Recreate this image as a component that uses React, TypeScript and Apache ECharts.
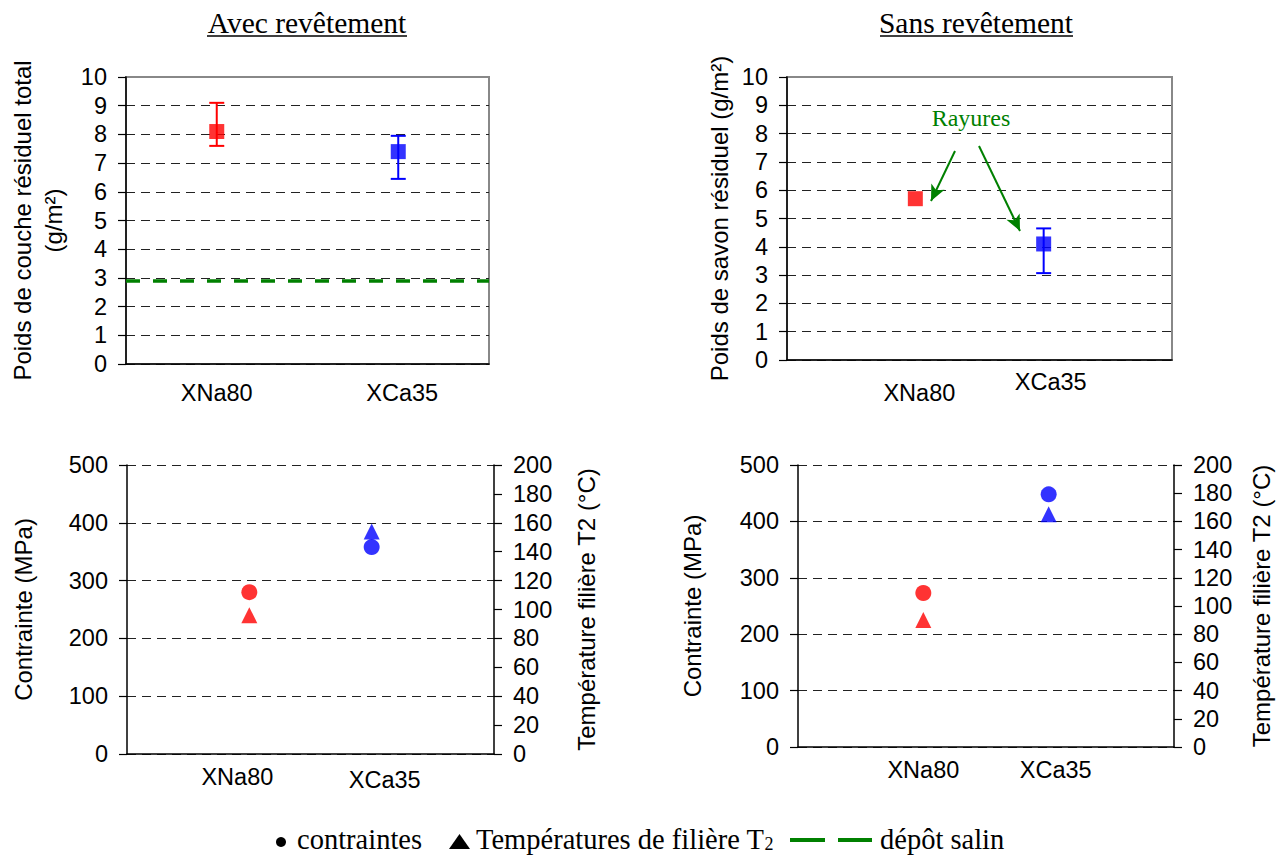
import React, { useEffect, useRef } from 'react';
import * as echarts from 'echarts';

// ---------- DATA ----------
const categories = ['XNa80', 'XCa35'];
const pointColors = ['#FF0000', '#0000FF'];

// Top-left : Avec revêtement — poids de couche résiduel total (g/m²)
const coatedResidual = [8.1, 7.4];
const coatedResidualLow = [7.6, 6.45];
const coatedResidualHigh = [9.1, 7.95];
const saltDeposit = 2.9; // dépôt salin

// Top-right : Sans revêtement — poids de savon résiduel (g/m²)
const uncoatedSoap = [5.7, 4.1];
const uncoatedSoapLow = [null, 3.07];
const uncoatedSoapHigh = [null, 4.65];

// Bottom : contraintes (MPa) et températures de filière T2 (°C)
const coatedStress = [280, 358];
const coatedTemp = [96, 154];
const uncoatedStress = [273, 448];
const uncoatedTemp = [90, 165];

// Axis ranges (tick labels)
const weightAxis = { min: 0, max: 10, interval: 1 };
const stressAxis = { min: 0, max: 500, interval: 100 };
const tempAxis = { min: 0, max: 200, interval: 20 };

// ---------- STYLE ----------
const SANS = 'Arial, "Liberation Sans", Helvetica, sans-serif';
const SERIF = '"Times New Roman", "Liberation Serif", Times, serif';
const GREEN = '#008000';
const LABEL_SIZE = 23.5;
const NAME_SIZE = 24;
const TITLE_SIZE = 29.5;
const LEGEND_SIZE = 28.5;
const LEGEND_Y = 839;

const paddedCats = ['', ...categories, ' '];

function xAxisDef(gridIndex: number, data: string[], boundaryGap: boolean, margin: number, pads: Record<string, number[]>) {
  const rich: Record<string, any> = {};
  categories.forEach((c, i) => {
    rich['c' + i] = { fontFamily: SANS, fontSize: LABEL_SIZE, color: '#000', padding: pads[c] || [0, 0, 0, 0] };
  });
  return {
    type: 'category',
    gridIndex,
    data,
    boundaryGap,
    axisLine: { show: true, lineStyle: { color: '#000', width: 1.5 } },
    axisTick: { show: false },
    splitLine: { show: false },
    axisLabel: {
      interval: 0,
      margin,
      fontFamily: SANS,
      fontSize: LABEL_SIZE,
      color: '#000',
      formatter: (v: string) => {
        const i = categories.indexOf(v);
        return i >= 0 ? `{c${i}|${v}}` : '';
      },
      rich,
    },
  };
}

function yAxisDef(gridIndex: number, range: any, position: 'left' | 'right', name: string, nameGap: number, split: boolean, showMax: boolean, lineHeight?: number) {
  return {
    type: 'value',
    gridIndex,
    position,
    min: range.min,
    max: range.max,
    interval: range.interval,
    name,
    nameLocation: 'middle',
    nameGap,
    nameTextStyle: { fontFamily: SANS, fontSize: NAME_SIZE, color: '#000', lineHeight: lineHeight || NAME_SIZE },
    axisLine: { show: true, onZero: false, lineStyle: { color: '#000', width: 1.5 } },
    axisTick: { show: true, inside: false, length: 8, lineStyle: { color: '#000', width: 1.2 } },
    axisLabel: { margin: 19, fontFamily: SANS, fontSize: LABEL_SIZE, color: '#000' },
    splitLine: split
      ? { show: true, showMaxLine: showMax, lineStyle: { color: '#222', width: 1, type: [9, 6] } }
      : { show: false },
  };
}

function errorBarSeries(xIdx: number, yIdx: number, lows: (number | null)[], highs: (number | null)[]) {
  const data: any[] = [];
  categories.forEach((c, i) => {
    if (lows[i] != null && highs[i] != null) data.push([c, lows[i], highs[i], i]);
  });
  return {
    type: 'custom',
    xAxisIndex: xIdx,
    yAxisIndex: yIdx,
    z: 1,
    silent: true,
    encode: { x: 0, y: [1, 2] },
    data,
    renderItem: (_params: any, api: any) => {
      const xi = api.value(0);
      const lo = api.coord([xi, api.value(1)]);
      const hi = api.coord([xi, api.value(2)]);
      const color = pointColors[api.value(3)];
      const cap = 7.5;
      const style = { stroke: color, lineWidth: 2, fill: 'none' };
      return {
        type: 'group',
        children: [
          { type: 'line', shape: { x1: lo[0], y1: lo[1], x2: hi[0], y2: hi[1] }, style },
          { type: 'line', shape: { x1: lo[0] - cap, y1: lo[1], x2: lo[0] + cap, y2: lo[1] }, style },
          { type: 'line', shape: { x1: hi[0] - cap, y1: hi[1], x2: hi[0] + cap, y2: hi[1] }, style },
        ],
      };
    },
  };
}

function pointSeries(name: string, xIdx: number, yIdx: number, values: number[], symbol: string, size: number, extra: any = {}) {
  return {
    type: 'scatter',
    name,
    xAxisIndex: xIdx,
    yAxisIndex: yIdx,
    symbol,
    symbolSize: size,
    z: 3,
    data: categories.map((c, i) => ({ value: [c, values[i]], itemStyle: { color: pointColors[i] } })),
    ...extra,
  };
}

export default function App() {
  const ref = useRef<HTMLDivElement>(null);

  useEffect(() => {
    if (!ref.current) return;
    const chart = echarts.init(ref.current, null, { renderer: 'svg' });

    const legendText = (text: string, x: number, extra: any = {}) => ({
      type: 'text',
      x,
      y: LEGEND_Y,
      style: {
        text,
        fontFamily: SERIF,
        fontSize: LEGEND_SIZE,
        lineHeight: 26,
        fill: '#000',
        align: 'left',
        verticalAlign: 'middle',
        ...extra,
      },
    });

    const option: any = {
      animation: false,
      backgroundColor: '#fff',
      grid: [
        { left: 126, top: 77, width: 363, height: 287, show: true, borderColor: '#888', borderWidth: 2, backgroundColor: 'transparent' },
        { left: 787, top: 77, width: 385, height: 283, show: true, borderColor: '#888', borderWidth: 2, backgroundColor: 'transparent' },
        { left: 127, top: 465, width: 367, height: 289 },
        { left: 798, top: 465, width: 376, height: 282 },
      ],
      xAxis: [
        xAxisDef(0, categories, true, 17, { XCa35: [0, 0, 0, 8] }),
        xAxisDef(1, paddedCats, false, 10, { XNa80: [11, 0, 0, 8], XCa35: [0, 0, 0, 14] }),
        xAxisDef(2, paddedCats, false, 11, { XNa80: [0, 24, 0, 0], XCa35: [3, 0, 0, 26] }),
        xAxisDef(3, paddedCats, false, 11, { XCa35: [0, 0, 0, 14] }),
      ],
      yAxis: [
        yAxisDef(0, weightAxis, 'left', 'Poids de couche résiduel total\n(g/m²)', 57, true, false, 31),
        yAxisDef(1, weightAxis, 'left', 'Poids de savon résiduel (g/m²)', 56, true, false),
        yAxisDef(2, stressAxis, 'left', 'Contrainte (MPa)', 92, true, true),
        yAxisDef(2, tempAxis, 'right', 'Température filière T2 (°C)', 80, false, false),
        yAxisDef(3, stressAxis, 'left', 'Contrainte (MPa)', 94, true, true),
        yAxisDef(3, tempAxis, 'right', 'Température filière T2 (°C)', 75, false, false),
      ],
      series: [
        errorBarSeries(0, 0, coatedResidualLow, coatedResidualHigh),
        pointSeries('Poids de couche résiduel total', 0, 0, coatedResidual, 'rect', 15, {
          markLine: {
            silent: true,
            symbol: 'none',
            label: { show: false },
            lineStyle: { color: GREEN, width: 3.5, type: [14, 13] },
            data: [{ name: 'dépôt salin', yAxis: saltDeposit }],
          },
        }),
        errorBarSeries(1, 1, uncoatedSoapLow, uncoatedSoapHigh),
        pointSeries('Poids de savon résiduel', 1, 1, uncoatedSoap, 'rect', 15, {
          markLine: {
            silent: true,
            symbol: ['none', 'arrow'],
            symbolSize: [11, 16],
            label: { show: false },
            lineStyle: { color: GREEN, width: 2, type: 'solid' },
            itemStyle: { color: GREEN },
            data: [
              [{ x: 955, y: 151 }, { x: 931, y: 201 }],
              [{ x: 979, y: 146 }, { x: 1020, y: 231 }],
            ],
          },
        }),
        pointSeries('contraintes', 2, 2, coatedStress, 'circle', 16),
        pointSeries('Températures de filière T2', 2, 3, coatedTemp, 'triangle', 16),
        pointSeries('contraintes', 3, 4, uncoatedStress, 'circle', 16),
        pointSeries('Températures de filière T2', 3, 5, uncoatedTemp, 'triangle', 16),
      ],
      graphic: [
        { type: 'text', x: 307, y: 23, style: { text: 'Avec revêtement', fontFamily: SERIF, fontSize: TITLE_SIZE, fill: '#000', align: 'center', verticalAlign: 'middle' } },
        { type: 'line', shape: { x1: 207, y1: 36, x2: 407, y2: 36 }, style: { stroke: '#000', lineWidth: 1.5 } },
        { type: 'text', x: 976, y: 23, style: { text: 'Sans revêtement', fontFamily: SERIF, fontSize: TITLE_SIZE, fill: '#000', align: 'center', verticalAlign: 'middle' } },
        { type: 'line', shape: { x1: 880, y1: 36, x2: 1073, y2: 36 }, style: { stroke: '#000', lineWidth: 1.5 } },
        { type: 'text', x: 971, y: 118, style: { text: 'Rayures', fontFamily: SERIF, fontSize: 24, fill: GREEN, align: 'center', verticalAlign: 'middle' } },
        // legend
        { type: 'circle', shape: { cx: 281, cy: LEGEND_Y + 3, r: 5 }, style: { fill: '#000' } },
        legendText('contraintes', 297),
        { type: 'polygon', shape: { points: [[449, LEGEND_Y + 10], [470, LEGEND_Y + 10], [459.5, LEGEND_Y - 5]] }, style: { fill: '#000' } },
        legendText('Températures de filière T{s|2}', 476, {
          rich: { s: { fontFamily: SERIF, fontSize: 18, lineHeight: 16, fill: '#000', padding: [10, 0, 0, 0] } },
        }),
        { type: 'rect', shape: { x: 790, y: LEGEND_Y - 1, width: 35, height: 4 }, style: { fill: GREEN } },
        { type: 'rect', shape: { x: 838, y: LEGEND_Y - 1, width: 34, height: 4 }, style: { fill: GREEN } },
        legendText('dépôt salin', 880),
      ],
    };

    chart.setOption(option);
    return () => chart.dispose();
  }, []);

  return <div ref={ref} style={{ position: 'absolute', left: 0, top: 0, width: 1288, height: 857 }} />;
}
